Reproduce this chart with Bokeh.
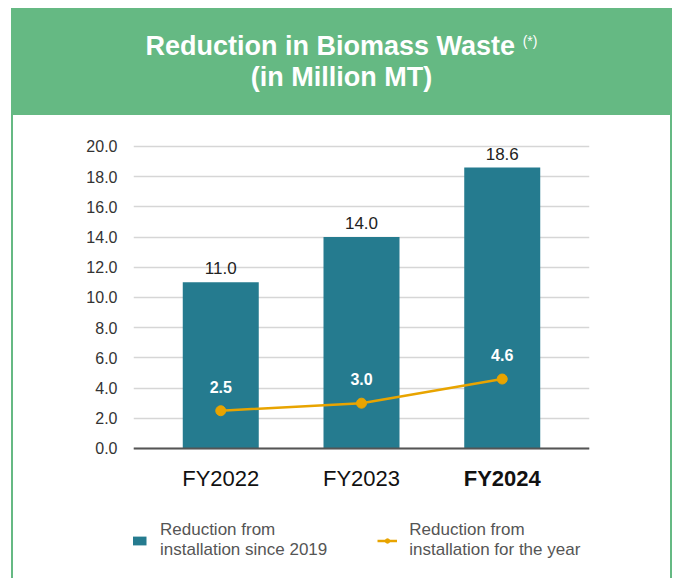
from bokeh.plotting import figure
from bokeh.models import (ColumnDataSource, FactorRange, Range1d, FixedTicker, Legend,
                          LegendItem, Div, Span, LabelSet, PrintfTickFormatter)
from bokeh.layouts import column
from bokeh.core.properties import value, field
from bokeh.embed import file_html
from bokeh.resources import INLINE

# ---- data ----
categories = ["FY2022", "FY2023", "FY2024"]
cumulative = [11.0, 14.0, 18.6]
yearly = [2.5, 3.0, 4.6]
category_styles = ["normal", "normal", "bold"]
y_ticks = [0, 2, 4, 6, 8, 10, 12, 14, 16, 18, 20]
title_line1 = "Reduction in Biomass Waste"
title_note = "(*)"
title_line2 = "(in Million MT)"
legend_bar = "Reduction from\ninstallation since 2019"
legend_line = "Reduction from\ninstallation for the year"

# ---- styles ----
GREEN = "#65b983"
TEAL = "#257b8f"
ORANGE = "#e8a400"
FONT = "Liberation Sans"

src = ColumnDataSource(dict(
    cat=categories,
    cum=cumulative,
    cum_label=[f"{v:.1f}" for v in cumulative],
    yr=yearly,
    yr_label=[f"{v:.1f}" for v in yearly],
    zero=[0] * len(categories),
    style=category_styles,
))

header = Div(
    text=(f'<div style="width:661px;height:107px;box-sizing:border-box;padding-top:23px;'
          f'text-align:center;color:#ffffff;font-family:\'{FONT}\',Arial,sans-serif;'
          f'font-weight:bold;font-size:27px;line-height:31px;">'
          f'{title_line1} <span style="font-size:14px;font-weight:normal;position:relative;'
          f'top:-9px;line-height:0;">{title_note}</span><br>{title_line2}</div>'),
    width=661, height=107, margin=(0, 0, 0, 0),
    styles={"background-color": GREEN},
)

p = figure(
    width=657, height=463,
    x_range=FactorRange(*categories, range_padding=0.08),
    y_range=Range1d(-8.61, 20.66),
    x_axis_location=None,
    output_backend="svg", toolbar_location=None,
    min_border_left=120, min_border_right=81, min_border_top=21, min_border_bottom=0,
    margin=(0, 2, 0, 2),
    styles={"background-color": "white"},
)
p.background_fill_color = "white"
p.border_fill_color = "white"
p.outline_line_color = None

p.yaxis.ticker = FixedTicker(ticks=y_ticks)
p.yaxis.formatter = PrintfTickFormatter(format="%.1f")
p.yaxis.axis_line_color = None
p.yaxis.major_tick_line_color = None
p.yaxis.minor_tick_line_color = None
p.yaxis.major_label_text_font = FONT
p.yaxis.major_label_text_font_size = "16px"
p.yaxis.major_label_text_color = "#333333"
p.yaxis.major_label_standoff = 10

p.xgrid.visible = False
p.ygrid.grid_line_color = "#d6d6d6"
p.ygrid.grid_line_width = 1.5

bars = p.vbar(x="cat", top="cum", width=0.54, source=src, fill_color=TEAL, line_color=None)
p.add_layout(Span(location=0, dimension="width", line_color="#555555", line_width=2))

ln = p.line(x="cat", y="yr", source=src, line_color=ORANGE, line_width=2.5)
pts = p.scatter(x="cat", y="yr", source=src, size=10, fill_color=ORANGE, line_color=ORANGE)

p.add_layout(LabelSet(x="cat", y="cum", text="cum_label", source=src, y_offset=8,
                      text_align="center", text_baseline="alphabetic",
                      text_font=value(FONT), text_font_size="17px", text_color="#222222"))
p.add_layout(LabelSet(x="cat", y="yr", text="yr_label", source=src, y_offset=18,
                      text_align="center", text_baseline="alphabetic",
                      text_font=value(FONT), text_font_size="16px", text_font_style="bold",
                      text_color="white"))
p.add_layout(LabelSet(x="cat", y="zero", text="cat", source=src, y_offset=-38,
                      text_align="center", text_baseline="alphabetic",
                      text_font=value(FONT), text_font_size="22px",
                      text_font_style=field("style"), text_color="#111111"))

legend = Legend(
    items=[LegendItem(label=legend_bar, renderers=[bars]),
           LegendItem(label=legend_line, renderers=[ln, pts])],
    orientation="horizontal", location=(-5, 18),
    border_line_color=None, background_fill_alpha=0,
    label_text_font=FONT, label_text_font_size="17px", label_text_color="#555555",
    label_text_line_height=1.1,
    glyph_width=20, glyph_height=11, label_standoff=12, spacing=50,
    padding=0, margin=0,
)
p.add_layout(legend)

layout = column(header, p, margin=(8, 0, 0, 11), styles={"background-color": GREEN})

html = file_html(layout, INLINE)
html = html.replace("<body>", '<body style="background-color:#eff0f7;">', 1)
open("out.html", "w").write(html)
